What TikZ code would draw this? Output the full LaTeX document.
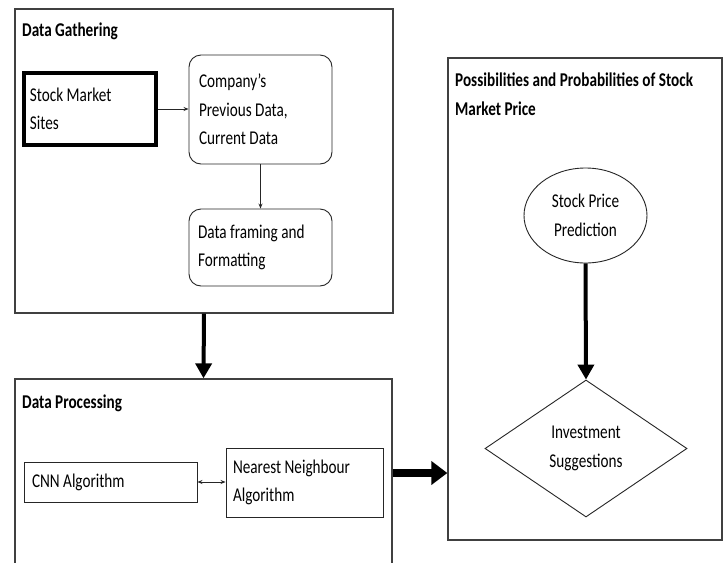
\documentclass[tikz,border=0pt]{standalone}
\usepackage{fontspec}
\setmainfont{Carlito}[FakeStretch=0.78]
\usetikzlibrary{shapes.geometric,arrows.meta}
\begin{document}
\begin{tikzpicture}[x=1pt,y=-1pt,
  container/.style={draw=black!75,line width=1.3pt,rectangle,inner sep=0pt},
  heading/.style={anchor=north west,inner sep=0pt,font=\bfseries\fontsize{19.5}{29}\selectfont,align=left,
    execute at begin node={\spaceskip=\fontdimen2\font\relax}},
  txt/.style={font=\fontsize{19.5}{28.5}\selectfont,
    execute at begin node={\spaceskip=\fontdimen2\font\relax}},
  box/.style={txt,draw=black!85,line width=0.9pt,rectangle,align=left,inner ysep=0pt},
  rbox/.style={box,rounded corners=12pt},
  thin/.style={draw=black!85,line width=0.8pt,-{Stealth[length=5pt,width=4pt]}},
  thick/.style={line width=4pt,-{Triangle[length=15pt,width=16pt]}},
]
\clip (0,0) rectangle (724,563);
\useasboundingbox (0,0) rectangle (724,563);
\fill[white] (0,0) rectangle (724,563);

% containers
\node[container,minimum width=378pt,minimum height=304pt] (dg) at (204,161) {};
\node[heading] (dgt) at (22,23) {Data Gathering};
\node[container,minimum width=377pt,minimum height=220pt] (dp) at (203.5,489) {};
\node[heading] (dpt) at (22,395) {Data Processing};
\node[container,minimum width=274pt,minimum height=482pt] (pp) at (585,299) {};
\node[heading] (ppt) at (455,73) {Possibilities and Probabilities of Stock\\Market Price};

% data gathering boxes
\node[box,line width=3.5pt,draw=black,minimum width=132pt,minimum height=72pt,text width=120pt,inner xsep=6pt] (smk) at (90,109) {Stock Market\\Sites};
\node[rbox,minimum width=143pt,minimum height=109pt,text width=123pt,inner xsep=10pt] (comp) at (260.5,109.5) {Company's\\Previous Data,\\Current Data};
\node[rbox,minimum width=143pt,minimum height=77pt,text width=125pt,inner xsep=9pt] (frm) at (260.5,247.5) {Data framing and\\Formatting};

% data processing boxes
\node[box,minimum width=173pt,minimum height=40pt,text width=157pt,inner xsep=8pt] (cnn) at (110.5,482) {CNN Algorithm};
\node[box,minimum width=157pt,minimum height=69pt,text width=143pt,inner xsep=7pt] (nn) at (304.5,482.5) {Nearest Neighbour\\Algorithm};

% right side
\node[txt,ellipse,draw=black!85,line width=0.9pt,minimum width=123pt,minimum height=95pt,inner sep=0pt,align=center] (sp) at (585.5,215.5) {Stock Price\\Prediction};
\node[txt,diamond,draw=black!85,line width=0.9pt,minimum width=202pt,minimum height=137pt,inner sep=0pt,align=center] (inv) at (586,448.5) {Investment\\Suggestions};

% connectors
\draw[thin] (smk.east) -- (comp.west |- smk.east);
\draw[thin] (comp.south) -- (frm.north);
\draw[draw=black!85,line width=0.8pt,{Stealth[length=5pt,width=4pt]}-{Stealth[length=5pt,width=4pt]}] (cnn.east) -- (nn.west |- cnn.east);
\draw[thick] (dg.south) -- (dp.north);
\draw[thick] (sp.south) -- (inv.north);
\coordinate (mid) at (420,473);
\draw[line width=8pt,-{Triangle[length=16pt,width=23pt]}] (dp.east |- mid) -- (pp.west |- mid);
\end{tikzpicture}
\end{document}
